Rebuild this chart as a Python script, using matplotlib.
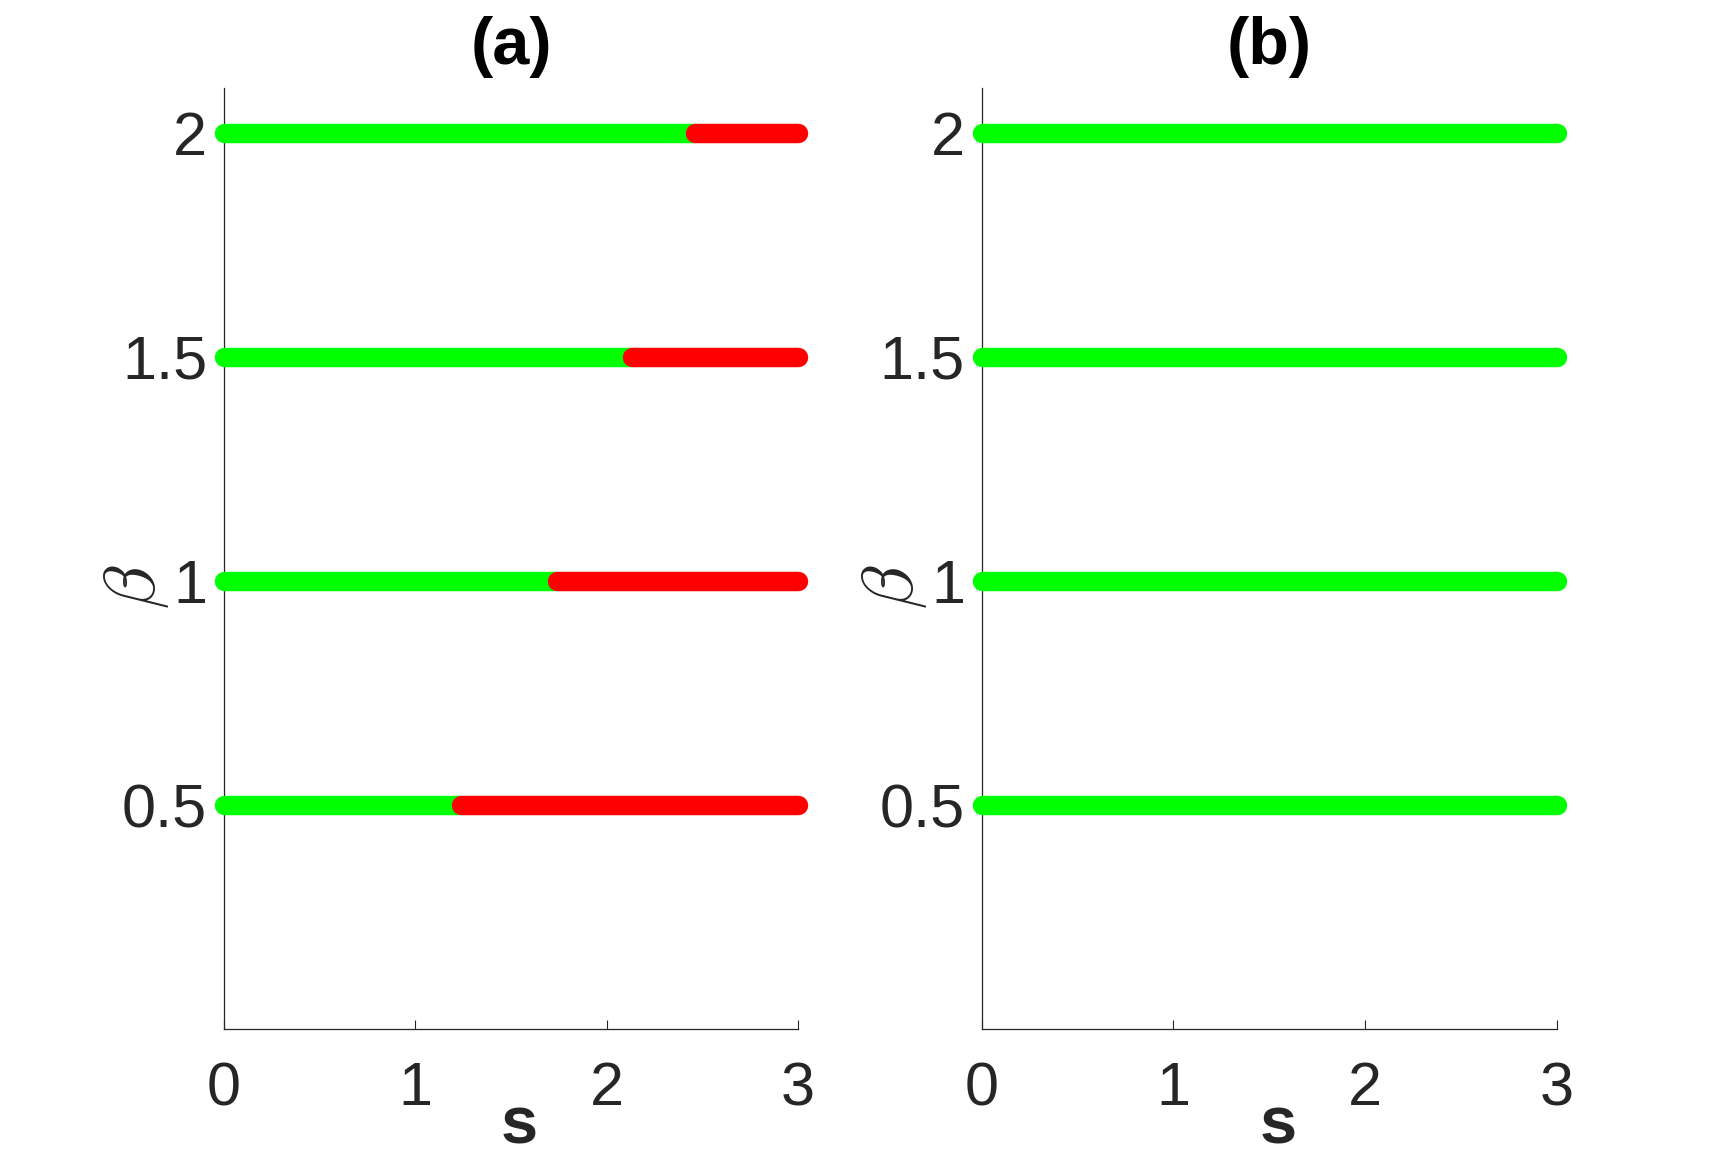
import matplotlib
matplotlib.use('Agg')
import matplotlib.pyplot as plt

# data
beta_vals = [0.5, 1.0, 1.5, 2.0]
s_switch_a = [1.24, 1.74, 2.13, 2.46]   # where green turns red in panel (a)
s_min, s_max = 0.0, 3.0

x_ticks = [0, 1, 2, 3]
x_ticklabels = ['0', '1', '2', '3']
y_ticks = [0.5, 1.0, 1.5, 2.0]
y_ticklabels = ['0.5', '1', '1.5', '2']
panel_titles = ['(a)', '(b)']

plt.rcParams['font.family'] = ['Liberation Sans', 'DejaVu Sans']
plt.rcParams['mathtext.fontset'] = 'cm'

dark = '#262626'
green = '#00ff00'
red = '#ff0000'
lw = 14

fig = plt.figure(figsize=(17.22, 11.57), dpi=100)
ax_a = fig.add_axes([0.1301, 0.1104, 0.3333, 0.8137])
ax_b = fig.add_axes([0.5701, 0.1104, 0.3339, 0.8137])

# panel (a): green up to the switch point, red after it
for b, sw in zip(beta_vals, s_switch_a):
    ax_a.plot([s_min, sw], [b, b], color=green, lw=lw,
              solid_capstyle='round', clip_on=False, zorder=3)
    ax_a.plot([sw, s_max], [b, b], color=red, lw=lw,
              solid_capstyle='round', clip_on=False, zorder=4)

# panel (b): all green
for b in beta_vals:
    ax_b.plot([s_min, s_max], [b, b], color=green, lw=lw,
              solid_capstyle='round', clip_on=False, zorder=3)

for ax, title in zip([ax_a, ax_b], panel_titles):
    ax.set_xlim(0, 3)
    ax.set_ylim(0, 2.1)
    ax.set_xticks(x_ticks)
    ax.set_xticklabels(x_ticklabels)
    ax.set_yticks(y_ticks)
    ax.set_yticklabels(y_ticklabels)
    ax.spines['top'].set_visible(False)
    ax.spines['right'].set_visible(False)
    for sp in ['left', 'bottom']:
        ax.spines[sp].set_color(dark)
        ax.spines[sp].set_linewidth(0.9)
    ax.tick_params(axis='both', direction='in', length=6.5, width=0.8,
                   color=dark, labelcolor=dark, labelsize=44)
    ax.tick_params(axis='x', pad=23)
    ax.tick_params(axis='y', pad=12)
    ax.set_title(title, fontsize=48, fontweight='bold', pad=17)
    ax.set_xlabel('s', fontsize=48, fontweight='bold', color=dark, va='baseline')
    ax.xaxis.set_label_coords(0.515, -0.121)
    ax.set_ylabel(r'$\beta$', fontsize=52, color=dark)
    ax.yaxis.set_label_coords(-0.092, 0.47)

fig.savefig('out.png', dpi=100, facecolor='white')
